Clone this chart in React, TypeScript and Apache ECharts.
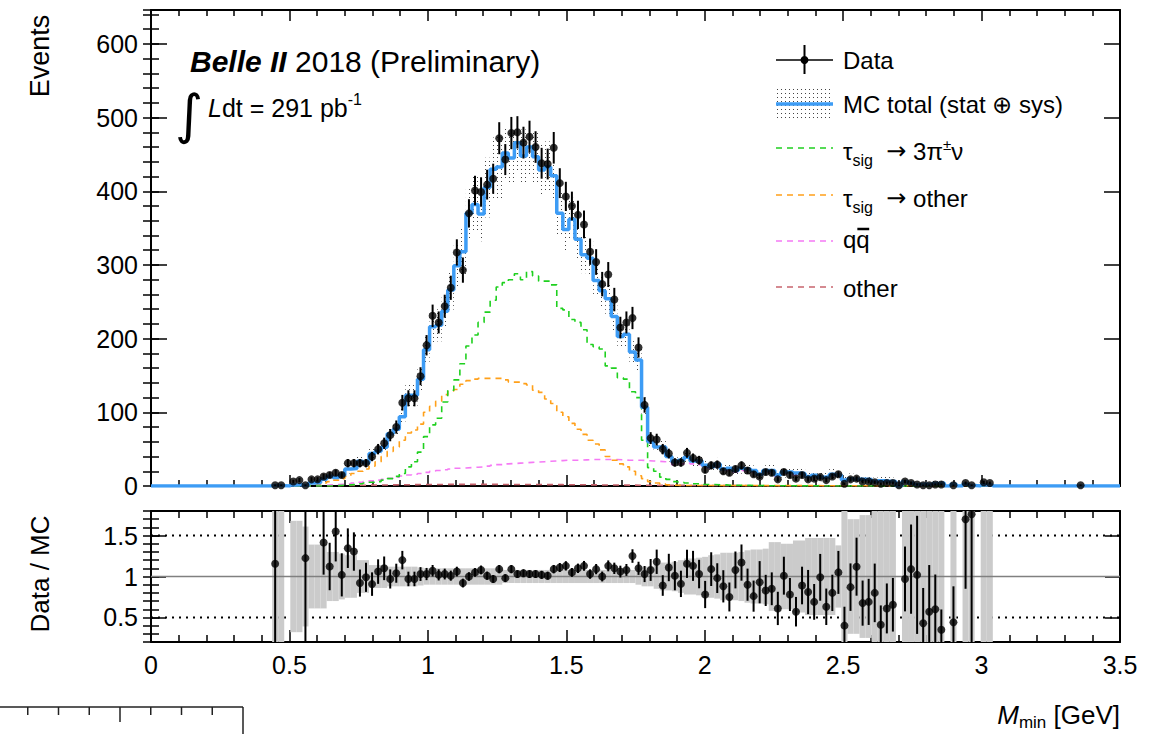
import React, { useEffect, useRef } from "react";
import * as echarts from "echarts";

// ---------------- binning / ranges ----------------
const X_MIN = 0;
const X_MAX = 3.5;
const N_BINS_TOTAL = 160;
const BIN_WIDTH = (X_MAX - X_MIN) / N_BINS_TOTAL;
const FIRST_BIN = 20; // arrays below start at this bin (M_min = 0.4375 GeV)

const Y_MAX_MAIN = 646;
const RATIO_MIN = 0.2;
const RATIO_MAX = 1.8;

const xTickValues = [0, 0.5, 1, 1.5, 2, 2.5, 3, 3.5];
const yTickValuesMain = [0, 100, 200, 300, 400, 500, 600];
const yTickValuesRatio = [0.5, 1, 1.5];
const ratioDottedLines = [0.5, 1.5];
const ratioUnityLine = 1;

// ---------------- data (bins 20 .. 153) ----------------
const dataCounts = [
  1, 1, 0, 6, 8, 1, 9, 9, 13, 15,
  18, 15, 31, 31, 31, 31, 40, 50, 58, 69,
  80, 113, 119, 119, 149, 191, 231, 222, 244, 269,
  317, 293, 370, 401, 399, 409, 417, 472, 443, 479,
  480, 466, 474, 460, 438, 437, 459, 411, 393, 380,
  368, 355, 318, 304, 274, 287, 253, 215, 222, 228,
  188, 110, 65, 63, 50, 44, 32, 32, 45, 38,
  35, 22, 28, 29, 20, 18, 23, 28, 21, 16,
  13, 19, 18, 9, 19, 15, 10, 15, 9, 10,
  12, 8, 13, 16, 3, 9, 10, 6, 6, 5,
  3, 4, 4, 1, 6, 4, 2, 1, 1, 2,
  2, 0, 1, 0, 4, 1, 0, 5, 4, 0,
  0, 0, 0, 0, 0, 0, 0, 0, 0, 0,
  0, 0, 0, 1,
];

const mcTotal = [
  0.9, 0.5, 0, 1.5, 2, 0.8, 4, 4.5, 9.2, 13.4,
  11.6, 14.7, 23, 23.8, 33.7, 31.3, 44, 47, 52.7, 71,
  77, 94, 123, 123, 145, 185, 216, 218, 237, 266,
  299, 318, 370, 382, 369, 405, 430, 433, 452, 445,
  466, 448, 460, 447, 429, 433, 421, 370, 348, 362,
  335, 314, 309, 279, 265, 254, 230, 203, 206, 182,
  171, 107, 60, 53, 53, 40, 33, 35, 39, 34,
  34, 28, 26, 30, 23, 24, 21, 24, 23, 21,
  16, 21, 21, 15, 19, 19, 17.5, 17, 13, 14.5,
  12, 12.7, 16, 15, 8, 10, 9, 9, 8.7, 6,
  7, 6.5, 6, 0, 6, 3.7, 2, 2.3, 1.75, 3.3,
  4, 0, 2.3, 0, 2.4, 0.6, 0, 1.5, 1, 0,
  0, 0, 0, 0, 0, 0, 0, 0, 0, 0,
  0, 0, 0, 0,
];

// relative MC uncertainty (stat ⊕ sys)
const mcRelErr = [
  1, 1, 0, 0.68, 0.68, 0.61, 0.39, 0.39, 0.39, 0.3,
  0.3, 0.28, 0.26, 0.26, 0.2, 0.2, 0.14, 0.14, 0.14, 0.12,
  0.12, 0.12, 0.12, 0.12, 0.11, 0.1, 0.1, 0.1, 0.1, 0.1,
  0.1, 0.1, 0.1, 0.1, 0.1, 0.1, 0.1, 0.1, 0.08, 0.08,
  0.08, 0.08, 0.08, 0.08, 0.08, 0.08, 0.08, 0.08, 0.08, 0.08,
  0.08, 0.08, 0.08, 0.08, 0.08, 0.08, 0.08, 0.08, 0.08, 0.08,
  0.1, 0.12, 0.12, 0.15, 0.17, 0.17, 0.18, 0.2, 0.22, 0.22,
  0.23, 0.24, 0.26, 0.27, 0.29, 0.29, 0.29, 0.3, 0.32, 0.33,
  0.33, 0.34, 0.42, 0.42, 0.4, 0.4, 0.44, 0.44, 0.47, 0.47,
  0.47, 0.47, 0.47, 0.38, 1, 0.7, 0.7, 0.75, 0.75, 0.9,
  0.9, 0.9, 0.9, 0, 0.85, 0.85, 1, 1, 1, 1,
  1, 0, 1, 0, 1, 1, 0, 1, 1, 0,
  0, 0, 0, 0, 0, 0, 0, 0, 0, 0,
  0, 0, 0, 0,
];

const sig3pi = [
  0, 0, 0, 0, 0, 0, 0, 0, 0, 0,
  0.5, 1, 1.5, 2, 3, 4, 5, 6, 8, 10,
  13, 17, 26, 33, 46, 67, 83, 92, 114, 130,
  144, 166, 190, 205, 222, 236, 252, 270, 276, 280,
  288, 280, 291, 285, 278, 278, 273, 241, 239, 226,
  222, 212, 192, 189, 186, 163, 160, 147, 145, 128,
  120, 62, 25, 20, 12, 9, 6, 5, 4, 3,
  3, 2, 2, 1.5, 1.5, 1, 1, 1, 0.8, 0.6,
  0.5, 0.4, 0.4, 0.3, 0.3, 0.3, 0.2, 0.2, 0.2, 0.2,
  0.1, 0.1, 0.1, 0.1, 0.1, 0.1, 0.1, 0.1, 0.1, 0.1,
  0, 0, 0, 0, 0, 0, 0, 0, 0, 0,
  0, 0, 0, 0, 0, 0, 0, 0, 0, 0,
  0, 0, 0, 0, 0, 0, 0, 0, 0, 0,
  0, 0, 0, 0,
];

const sigOther = [
  0, 0, 0, 0, 0.5, 1, 1.5, 2.5, 4, 6,
  8, 10, 13, 17, 20, 23, 27, 33, 40, 47,
  53, 62, 72, 76, 84, 100, 108, 115, 124, 129,
  131, 138, 143, 145, 146, 146, 146, 146, 144, 141,
  141, 139, 137, 130, 127, 118, 112, 100, 94, 85,
  77, 70, 62, 57, 49, 40, 35, 30, 26, 20,
  14, 10, 6, 4, 2.5, 1.5, 1, 0.8, 0.6, 0.6,
  0.6, 0.6, 0.6, 0.6, 0.6, 0.6, 0.6, 0.6, 0.6, 0.6,
  0.5, 0.5, 0.5, 0.5, 0.5, 0.5, 0.5, 0.5, 0.5, 0.5,
  0.4, 0.4, 0.4, 0.4, 0.4, 0.4, 0.4, 0.4, 0.4, 0.4,
  0.3, 0.3, 0.3, 0.3, 0.3, 0.3, 0.3, 0.3, 0.3, 0.3,
  0, 0, 0, 0, 0, 0, 0, 0, 0, 0,
  0, 0, 0, 0, 0, 0, 0, 0, 0, 0,
  0, 0, 0, 0,
];

const qqbar = [
  0, 0, 0, 0, 0, 0, 0.5, 0.7, 1, 1.5,
  2, 2.5, 3, 4, 5, 6, 7, 8, 9, 10.5,
  12, 13.5, 15, 16, 17, 18.5, 20, 21, 22, 23,
  24, 24.5, 25, 25.5, 26, 27, 28, 29, 30, 30.5,
  31, 31.5, 32, 32.5, 33, 33.5, 34, 34.5, 35, 35,
  35, 35.5, 36, 36, 36, 36, 36, 35.5, 35, 35,
  35, 34.5, 34, 33.5, 33, 32, 29, 30, 31, 30,
  29, 25, 24, 26, 21, 21, 19, 21, 20, 19,
  15, 19, 19, 13, 17, 17, 15, 15, 12, 13,
  11, 11, 14, 13, 7, 9, 8, 8, 7.5, 5.5,
  6, 5.5, 5, 0, 5, 3, 1.8, 2, 1.5, 3,
  3.5, 0, 2, 0, 2, 0.5, 0, 1.3, 0.8, 0,
  0, 0, 0, 0, 0, 0, 0, 0, 0, 0,
  0, 0, 0, 0,
];

const otherBkg = [
  0, 0, 0, 0, 0, 0, 0.3, 0.3, 0.4, 0.5,
  0.6, 0.7, 0.8, 0.9, 1, 1.1, 1.2, 1.3, 1.4, 1.5,
  1.6, 1.7, 1.8, 1.9, 2, 2, 2.1, 2.1, 2.2, 2.2,
  2.2, 2.2, 2.2, 2.2, 2.2, 2.2, 2.2, 2.1, 2.1, 2.1,
  2, 2, 2, 2, 1.9, 1.9, 1.8, 1.8, 1.7, 1.7,
  1.6, 1.6, 1.5, 1.5, 1.4, 1.4, 1.3, 1.3, 1.2, 1.2,
  1.1, 1, 1, 0.9, 0.9, 0.8, 0.8, 0.8, 0.7, 0.7,
  0.7, 0.6, 0.6, 0.6, 0.5, 0.5, 0.5, 0.5, 0.4, 0.4,
  0.4, 0.4, 0.4, 0.4, 0.4, 0.4, 0.4, 0.4, 0.4, 0.4,
  0.3, 0.3, 0.3, 0.3, 0.3, 0.3, 0.3, 0.3, 0.3, 0.3,
  0.2, 0.2, 0.2, 0.2, 0.2, 0.2, 0.2, 0.2, 0.2, 0.2,
  0, 0, 0, 0, 0, 0, 0, 0, 0, 0,
  0, 0, 0, 0, 0, 0, 0, 0, 0, 0,
  0, 0, 0, 0,
];

// Data / MC as drawn in the lower pad (null = not drawn)
const ratioValues: (number | null)[] = [
  1.155, null, null, null, null, 1.224, null, null, 1.415, 1.122,
  1.549, 1.02, 1.346, 1.305, 0.92, 0.99, 0.907, 1.06, 1.1, 0.97,
  1.04, 1.2, 0.97, 0.97, 1.03, 1.03, 1.07, 1.02, 1.03, 1.01,
  1.06, 0.92, 1.0, 1.05, 1.08, 1.01, 0.97, 1.09, 0.98, 1.09,
  1.03, 1.04, 1.03, 1.03, 1.02, 1.01, 1.09, 1.11, 1.13, 1.05,
  1.1, 1.13, 1.03, 1.09, 1.0, 1.13, 1.1, 1.06, 1.08, 1.25,
  1.1, 1.03, 1.08, 1.18, 0.89, 1.11, 1.01, 0.91, 1.155, 1.13,
  1.03, 0.78, 1.09, 0.98, 0.88, 0.75, 1.08, 1.17, 0.9, 0.76,
  0.93, 0.83, 0.85, 0.61, 1.01, 0.78, 0.57, 0.89, 0.81, 0.69,
  0.99, 0.63, 0.8, 1.05, 0.4, 0.87, 1.12, 0.675, 0.69, 0.8,
  0.41, 0.61, 0.655, null, 0.97, 1.09, 1.02, 0.43, 0.57, 0.6,
  0.35, null, 0.44, null, 1.7, 1.76, null, null, null, null,
  null, null, null, null, null, null, null, null, null, null,
  null, null, null, null,
];

// ---------------- style ----------------
const FONT = "'Liberation Sans', Arial, Helvetica, sans-serif";
const SYMBOL_FONT = "'DejaVu Sans', 'Liberation Sans', sans-serif";
const BLUE = "#3d9cf5";
const GREEN = "#1fd01f";
const ORANGE = "#ffa01a";
const MAGENTA = "#f57af5";
const BROWN = "#c8646e";
const BAND_GREY = "#cbcbcb";

const binLow = (i: number) => X_MIN + (FIRST_BIN + i) * BIN_WIDTH;
const binCenter = (i: number) => binLow(i) + BIN_WIDTH / 2;

function stepPoints(values: number[]) {
  const pts: number[][] = [[X_MIN, 0]];
  values.forEach((v, i) => pts.push([binLow(i), v]));
  pts.push([binLow(values.length), 0]);
  pts.push([X_MAX, 0]);
  return pts;
}

type Run = { t: string; size: number; dy?: number; italic?: boolean; bold?: boolean; family?: string };

function makeRuns(ctx: CanvasRenderingContext2D, x0: number, baseline: number, runs: Run[], anchor: "left" | "right" = "left") {
  const fontOf = (r: Run) => `${r.italic ? "italic " : ""}${r.bold ? "bold " : ""}${r.size}px ${r.family || FONT}`;
  const widths = runs.map((r) => {
    ctx.font = fontOf(r);
    return ctx.measureText(r.t).width;
  });
  const total = widths.reduce((a, b) => a + b, 0);
  let x = anchor === "left" ? x0 : x0 - total;
  const startX = x;
  const els: any[] = [];
  const xs: number[] = [];
  runs.forEach((r, i) => {
    ctx.font = fontOf(r);
    const lead = (r.t.match(/^ */) as RegExpMatchArray)[0];
    const leadW = lead ? ctx.measureText(lead).width : 0;
    const txt = r.t.trimStart();
    xs.push(x + leadW);
    els.push({
      type: "text",
      silent: true,
      x: x + leadW,
      y: baseline + (r.dy || 0) - 0.32 * r.size,
      style: {
        text: txt,
        fontSize: r.size,
        fontFamily: r.family || FONT,
        fontStyle: r.italic ? "italic" : "normal",
        fontWeight: r.bold ? "bold" : "normal",
        fill: "#000",
        align: "left",
        verticalAlign: "middle",
        textAlign: "left",
        textVerticalAlign: "middle",
      },
    });
    x += widths[i];
  });
  return { els, startX, endX: x, xs, widths };
}

function makeDotPattern() {
  const c = document.createElement("canvas");
  c.width = 4;
  c.height = 4;
  const g = c.getContext("2d") as CanvasRenderingContext2D;
  g.fillStyle = "#444";
  g.fillRect(1, 1, 1, 1);
  return { image: c.toDataURL(), repeat: "repeat", imageWidth: 4, imageHeight: 4 } as any;
}

function buildOption() {
  const dots = makeDotPattern();
  const mctx = document.createElement("canvas").getContext("2d") as CanvasRenderingContext2D;

  // ---------- axes ----------
  const frameLine = { show: true, onZero: false, lineStyle: { color: "#000", width: 2 } };
  const tickStyle = { color: "#000", width: 1.5 };
  const xAxisDef = (gridIndex: number, position: string, showLabels: boolean, major: number, minor: number) => ({
    type: "value",
    gridIndex,
    position,
    min: X_MIN,
    max: X_MAX,
    interval: 0.5,
    axisLine: frameLine,
    axisTick: { show: true, inside: true, length: major, lineStyle: tickStyle },
    minorTick: { show: true, splitNumber: 5, length: minor, lineStyle: tickStyle },
    splitLine: { show: false },
    minorSplitLine: { show: false },
    axisLabel: showLabels
      ? { show: true, fontSize: 25, fontFamily: FONT, color: "#000", margin: 10, showMinLabel: true, showMaxLabel: true, customValues: xTickValues, formatter: (v: number) => String(v) }
      : { show: false },
  });
  const yMajor = (gridIndex: number, position: string, min: number, max: number, ticks: number[], showLabels: boolean, len: number) => ({
    type: "value",
    gridIndex,
    position,
    min,
    max,
    axisLine: frameLine,
    axisTick: { show: true, inside: true, length: len, customValues: ticks, lineStyle: tickStyle },
    axisLabel: showLabels
      ? { show: true, customValues: ticks, fontSize: 25, fontFamily: FONT, color: "#000", margin: 13, formatter: (v: number) => String(v) }
      : { show: false },
    splitLine: { show: false },
  });
  const yMinor = (gridIndex: number, position: string, min: number, max: number, interval: number, len: number) => ({
    type: "value",
    gridIndex,
    position,
    min,
    max,
    interval,
    axisLine: { show: false },
    axisTick: { show: true, inside: true, length: len, lineStyle: tickStyle },
    axisLabel: { show: false },
    splitLine: { show: false },
  });

  // ---------- main pad series ----------
  const bandMain: number[][] = [];
  const bandRatio: number[][] = [];
  mcTotal.forEach((v, i) => {
    const r = mcRelErr[i];
    if (v > 0 && r > 0) {
      bandMain.push([binLow(i), binLow(i + 1), v * (1 - r), v * (1 + r)]);
      bandRatio.push([binLow(i), binLow(i + 1), 1 - r, 1 + r]);
    }
  });

  const dataPts: number[][] = [];
  const dataErr: number[][] = [];
  dataCounts.forEach((n, i) => {
    if (n > 0) {
      const e = Math.sqrt(n);
      dataPts.push([binCenter(i), n]);
      dataErr.push([binCenter(i), n - e, n + e]);
    }
  });

  const ratioPts: number[][] = [];
  const ratioErr: number[][] = [];
  ratioValues.forEach((r, i) => {
    const n = dataCounts[i];
    if (r != null && n > 0) {
      const e = r / Math.sqrt(n);
      ratioPts.push([binCenter(i), r]);
      ratioErr.push([binCenter(i), r - e, r + e]);
    }
  });

  const rectRender = (fill: any, lo: number, hi: number) => (params: any, api: any) => {
    const y0 = Math.max(lo, Math.min(hi, api.value(2)));
    const y1 = Math.max(lo, Math.min(hi, api.value(3)));
    const a = api.coord([api.value(0), y1]);
    const b = api.coord([api.value(1), y0]);
    return {
      type: "rect",
      shape: { x: a[0], y: a[1], width: b[0] - a[0], height: b[1] - a[1] },
      style: { fill },
      silent: true,
    };
  };
  const errRender = (lo: number, hi: number) => (params: any, api: any) => {
    const x = api.value(0);
    const y0 = Math.max(lo, Math.min(hi, api.value(1)));
    const y1 = Math.max(lo, Math.min(hi, api.value(2)));
    const a = api.coord([x, y0]);
    const b = api.coord([x, y1]);
    return { type: "line", shape: { x1: a[0], y1: a[1], x2: b[0], y2: b[1] }, style: { stroke: "#000", lineWidth: 2 }, silent: true };
  };

  const compLine = (values: number[], color: string) => ({
    type: "line",
    xAxisIndex: 0,
    yAxisIndex: 0,
    step: "end",
    data: stepPoints(values),
    symbol: "none",
    showSymbol: false,
    silent: true,
    clip: true,
    lineStyle: { color, width: 1.6, type: [6, 5] },
    z: 3,
  });

  const series: any[] = [
    {
      type: "custom",
      xAxisIndex: 0,
      yAxisIndex: 0,
      data: bandMain,
      renderItem: rectRender(dots, 0, Y_MAX_MAIN),
      silent: true,
      z: 2,
    },
    compLine(otherBkg, BROWN),
    compLine(qqbar, MAGENTA),
    compLine(sigOther, ORANGE),
    compLine(sig3pi, GREEN),
    {
      type: "line",
      xAxisIndex: 0,
      yAxisIndex: 0,
      step: "end",
      data: stepPoints(mcTotal),
      symbol: "none",
      showSymbol: false,
      silent: true,
      clip: true,
      lineStyle: { color: BLUE, width: 3.5 },
      z: 4,
    },
    {
      type: "custom",
      xAxisIndex: 0,
      yAxisIndex: 0,
      data: dataErr,
      renderItem: errRender(0, Y_MAX_MAIN),
      silent: true,
      z: 5,
    },
    {
      type: "scatter",
      xAxisIndex: 0,
      yAxisIndex: 0,
      data: dataPts,
      symbol: "circle",
      symbolSize: 8,
      itemStyle: { color: "#000" },
      silent: true,
      z: 6,
    },
    // ---------- ratio pad ----------
    ...ratioDottedLines.map((v) => ({
      type: "line",
      xAxisIndex: 2,
      yAxisIndex: 4,
      data: [[X_MIN, v], [X_MAX, v]],
      symbol: "none",
      showSymbol: false,
      silent: true,
      lineStyle: { color: "#000", width: 2, type: [2, 5] },
      z: 1,
    })),
    {
      type: "custom",
      xAxisIndex: 2,
      yAxisIndex: 4,
      data: bandRatio,
      renderItem: rectRender(BAND_GREY, RATIO_MIN, RATIO_MAX),
      silent: true,
      z: 2,
    },
    {
      type: "line",
      xAxisIndex: 2,
      yAxisIndex: 4,
      data: [[X_MIN, ratioUnityLine], [X_MAX, ratioUnityLine]],
      symbol: "none",
      showSymbol: false,
      silent: true,
      lineStyle: { color: "#808080", width: 1.5 },
      z: 3,
    },
    {
      type: "custom",
      xAxisIndex: 2,
      yAxisIndex: 4,
      data: ratioErr,
      renderItem: errRender(RATIO_MIN, RATIO_MAX),
      silent: true,
      z: 5,
    },
    {
      type: "scatter",
      xAxisIndex: 2,
      yAxisIndex: 4,
      data: ratioPts,
      symbol: "circle",
      symbolSize: 8,
      itemStyle: { color: "#000" },
      silent: true,
      clip: true,
      z: 6,
    },
  ];

  // ---------- graphic: texts + legend ----------
  const g: any[] = [];
  const push = (r: { els: any[] }) => r.els.forEach((e) => g.push(e));

  // title
  push(makeRuns(mctx, 190, 71, [
    { t: "Belle II", size: 30, bold: true, italic: true },
    { t: " 2018 (Preliminary)", size: 30 },
  ]));
  // integral sign
  g.push({
    type: "text",
    silent: true,
    x: 189,
    y: 114,
    style: { text: "∫", fontSize: 54, fontFamily: SYMBOL_FONT, fill: "#000", align: "center", verticalAlign: "middle", textAlign: "center", textVerticalAlign: "middle" },
  });
  push(makeRuns(mctx, 208, 116, [
    { t: "L", size: 25, italic: true },
    { t: "dt = 291 pb", size: 25 },
    { t: "-1", size: 16, dy: -11 },
  ]));

  // axis titles
  g.push({
    type: "text",
    silent: true,
    x: 40,
    y: 56,
    rotation: Math.PI / 2,
    style: { text: "Events", fontSize: 27, fontFamily: FONT, fill: "#000", align: "center", verticalAlign: "middle", textAlign: "center", textVerticalAlign: "middle" },
  });
  g.push({
    type: "text",
    silent: true,
    x: 40,
    y: 574,
    rotation: Math.PI / 2,
    style: { text: "Data / MC", fontSize: 26, fontFamily: FONT, fill: "#000", align: "center", verticalAlign: "middle", textAlign: "center", textVerticalAlign: "middle" },
  });
  push(makeRuns(mctx, 1120, 723, [
    { t: "M", size: 26, italic: true },
    { t: "min", size: 17, dy: 5 },
    { t: " [GeV]", size: 26 },
  ], "right"));

  // legend
  const LX0 = 776;
  const LX1 = 833;
  const LT = 843;
  const rowY = [60, 104, 148, 195, 241, 287];
  // Data
  g.push({ type: "line", silent: true, shape: { x1: LX0, y1: rowY[0], x2: LX1, y2: rowY[0] }, style: { stroke: "#000", lineWidth: 1.5 } });
  g.push({ type: "line", silent: true, shape: { x1: (LX0 + LX1) / 2, y1: rowY[0] - 15, x2: (LX0 + LX1) / 2, y2: rowY[0] + 14 }, style: { stroke: "#000", lineWidth: 2 } });
  g.push({ type: "circle", silent: true, shape: { cx: (LX0 + LX1) / 2, cy: rowY[0], r: 4 }, style: { fill: "#000" } });
  push(makeRuns(mctx, LT, rowY[0] + 8.5, [{ t: "Data", size: 24 }]));
  // MC total
  g.push({ type: "rect", silent: true, shape: { x: LX0, y: rowY[1] - 15, width: LX1 - LX0, height: 31 }, style: { fill: dots } });
  g.push({ type: "line", silent: true, shape: { x1: LX0, y1: rowY[1], x2: LX1, y2: rowY[1] }, style: { stroke: BLUE, lineWidth: 3.5 } });
  push(makeRuns(mctx, LT, rowY[1] + 8.5, [{ t: "MC total (stat ⊕ sys)", size: 24 }]));
  // components
  const compRows = [
    { color: GREEN, y: rowY[2] },
    { color: ORANGE, y: rowY[3] },
    { color: MAGENTA, y: rowY[4] },
    { color: BROWN, y: rowY[5] },
  ];
  compRows.forEach((c) =>
    g.push({ type: "line", silent: true, shape: { x1: LX0, y1: c.y, x2: LX1, y2: c.y }, style: { stroke: c.color, lineWidth: 1.6, lineDash: [6, 5] } })
  );
  push(makeRuns(mctx, LT, rowY[2] + 11, [
    { t: "τ", size: 24 },
    { t: "sig", size: 16, dy: 7 },
    { t: "  ", size: 24 },
    { t: "→", size: 24, family: SYMBOL_FONT },
    { t: " 3π", size: 24 },
    { t: "±", size: 15, dy: -10 },
    { t: "ν", size: 24 },
  ]));
  push(makeRuns(mctx, LT, rowY[3] + 11, [
    { t: "τ", size: 24 },
    { t: "sig", size: 16, dy: 7 },
    { t: "  ", size: 24 },
    { t: "→", size: 24, family: SYMBOL_FONT },
    { t: " other", size: 24 },
  ]));
  const qq = makeRuns(mctx, LT, rowY[4] + 6, [{ t: "q", size: 24 }, { t: "q", size: 24 }]);
  push(qq);
  g.push({
    type: "line",
    silent: true,
    shape: { x1: qq.xs[1] + 1, y1: rowY[4] - 12, x2: qq.xs[1] + qq.widths[1] - 0.5, y2: rowY[4] - 12 },
    style: { stroke: "#000", lineWidth: 2.5 },
  });
  push(makeRuns(mctx, LT, rowY[5] + 9, [{ t: "other", size: 24 }]));

  // partial axis fragment at the lower-left corner of the picture
  const fragY = 707;
  const fragX = 243;
  const fragStep = 30.75;
  g.push({ type: "line", silent: true, shape: { x1: 0, y1: fragY, x2: fragX, y2: fragY }, style: { stroke: "#222", lineWidth: 1.5 } });
  g.push({ type: "line", silent: true, shape: { x1: fragX, y1: fragY, x2: fragX, y2: 734 }, style: { stroke: "#222", lineWidth: 1.5 } });
  for (let k = 1; k <= 7; k++) {
    const x = fragX - k * fragStep;
    g.push({ type: "line", silent: true, shape: { x1: x, y1: fragY, x2: x, y2: fragY + (k === 4 ? 15 : 8) }, style: { stroke: "#222", lineWidth: 1.5 } });
  }

  return {
    animation: false,
    backgroundColor: "#fff",
    grid: [
      { left: 151, top: 10, width: 969, height: 476, containLabel: false },
      { left: 151, top: 511, width: 969, height: 131, containLabel: false },
    ],
    xAxis: [
      xAxisDef(0, "bottom", false, 11, 6),
      xAxisDef(0, "top", false, 11, 6),
      xAxisDef(1, "bottom", true, 12, 7),
      xAxisDef(1, "top", false, 12, 7),
    ],
    yAxis: [
      yMajor(0, "left", 0, Y_MAX_MAIN, yTickValuesMain, true, 16),
      yMinor(0, "left", 0, Y_MAX_MAIN, 20, 8),
      yMajor(0, "right", 0, Y_MAX_MAIN, yTickValuesMain, false, 16),
      yMinor(0, "right", 0, Y_MAX_MAIN, 20, 8),
      yMajor(1, "left", RATIO_MIN, RATIO_MAX, yTickValuesRatio, true, 15),
      yMinor(1, "left", RATIO_MIN, RATIO_MAX, 0.1, 8),
      yMajor(1, "right", RATIO_MIN, RATIO_MAX, yTickValuesRatio, false, 15),
      yMinor(1, "right", RATIO_MIN, RATIO_MAX, 0.1, 8),
    ],
    series,
    graphic: { elements: g },
  };
}

export default function App() {
  const ref = useRef<HTMLDivElement>(null);
  useEffect(() => {
    if (!ref.current) return;
    const chart = echarts.init(ref.current, null, { renderer: "svg" });
    chart.setOption(buildOption() as any);
    return () => chart.dispose();
  }, []);
  return (
    <div
      ref={ref}
      style={{ position: "absolute", left: 0, top: 0, width: 1150, height: 734, background: "#fff" }}
    />
  );
}
